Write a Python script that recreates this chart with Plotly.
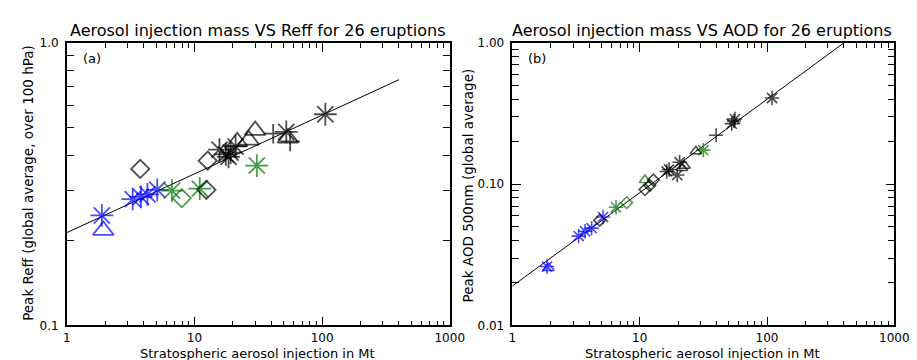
import numpy as np
import plotly.graph_objects as go

# ---------------- data ----------------
reff_mass = [1.88, 1.93, 3.28, 3.81, 4.28, 5.11, 3.76, 6.66, 7.95, 11.0, 30.8,
             12.4, 12.7, 15.7, 17.6, 18.5, 19.2, 21.0, 21.6, 26.6, 29.9, 41.4,
             52.4, 54.0, 56.2, 106.0]
reff_value = [0.245, 0.217, 0.280, 0.285, 0.291, 0.302, 0.358, 0.300, 0.282, 0.305, 0.368,
              0.302, 0.383, 0.419, 0.403, 0.395, 0.409, 0.430, 0.447, 0.453, 0.490, 0.477,
              0.484, 0.460, 0.448, 0.559]
reff_group = ["B", "B", "B", "B", "B", "B", "K", "G", "G", "G", "G",
              "K", "K", "K", "K", "K", "K", "K", "K", "K", "K", "K",
              "K", "K", "K", "K"]
reff_symbol = ["ast", "tri", "ast", "ast", "ast", "ast", "dia", "ast", "dia", "ast", "ast",
               "dia", "dia", "ast", "ast", "ast", "ast", "ast", "tri", "tri", "tri", "plus",
               "ast", "tri", "plus", "ast"]

aod_mass = [1.87, 1.92, 3.31, 3.72, 4.19, 5.15, 4.85, 6.51, 7.9, 11.0, 31.6,
            11.0, 12.0, 12.8, 16.3, 17.0, 19.7, 20.6, 21.5, 22.5, 27.6, 39.8,
            52.8, 55.0, 56.0, 109.6]
aod_value = [0.0261, 0.0255, 0.0429, 0.0464, 0.0488, 0.0585, 0.0556, 0.0686, 0.074, 0.107, 0.174,
             0.0915, 0.098, 0.107, 0.123, 0.127, 0.116, 0.143, 0.130, 0.135, 0.171, 0.222,
             0.268, 0.280, 0.289, 0.407]
aod_group = reff_group
aod_symbol = ["ast", "tri", "ast", "ast", "ast", "ast", "dia", "ast", "dia", "tri", "ast",
              "dia", "dia", "dia", "ast", "ast", "ast", "ast", "tri", "tri", "tri", "plus",
              "ast", "plus", "ast", "ast"]

# power-law fits  y = a * M^b  (drawn from 1 to 400 Mt)
reff_fit = (0.213, 0.208)
aod_fit = (0.019, 0.661)
fit_range = (1.0, 400.0)

x_major = [1, 10, 100, 1000]
x_major_text = ["1", "10", "100", "1000"]
reff_major = [0.1, 1.0]
reff_major_text = ["0.1", "1.0"]
aod_major = [0.01, 0.1, 1.0]
aod_major_text = ["0.01", "0.10", "1.00"]

# ---------------- styles ----------------
colors = {"B": "#0000ff", "G": "#007000", "K": "#000000"}
plotly_sym = {"ast": "asterisk-open", "tri": "triangle-up-open",
              "dia": "diamond-open", "plus": "cross-thin-open"}
size_left = {"ast": 19, "tri": 18, "dia": 14, "plus": 14}
size_right = {"ast": 12, "tri": 10, "dia": 9, "plus": 10}
FONT = "DejaVu Sans"

W, H = 917, 360
left_dom = [56 / W, 447 / W]
right_dom = [511 / W, 901 / W]
y_dom = [1 - 323 / H, 1 - 29 / H]

fig = go.Figure()


def add_panel(mass, vals, groups, syms, fit, sizes, lw, xa, ya):
    xs = np.logspace(np.log10(fit_range[0]), np.log10(fit_range[1]), 50)
    fig.add_trace(go.Scatter(x=xs, y=fit[0] * xs ** fit[1], mode="lines",
                             line=dict(color="black", width=1),
                             xaxis=xa, yaxis=ya, showlegend=False, hoverinfo="skip",
                             cliponaxis=True))
    fig.add_trace(go.Scatter(
        x=mass, y=vals, mode="markers", xaxis=xa, yaxis=ya, showlegend=False,
        cliponaxis=False,
        marker=dict(symbol=[plotly_sym[s] for s in syms],
                    size=[sizes[s] for s in syms],
                    color=[colors[g] for g in groups],
                    line=dict(color=[colors[g] for g in groups], width=lw))))


add_panel(reff_mass, reff_value, reff_group, reff_symbol, reff_fit, size_left, 1.8, "x", "y")
add_panel(aod_mass, aod_value, aod_group, aod_symbol, aod_fit, size_right, 1.6, "x2", "y2")


def minor_vals(lo, hi):
    out = []
    d = lo
    while d < hi:
        out += [k * d for k in range(2, 10)]
        d *= 10
    return out


axis_common = dict(type="log", showgrid=False, zeroline=False, showline=True,
                   linecolor="black", linewidth=1.5, mirror="ticks", ticks="inside",
                   ticklen=9, tickwidth=1, tickcolor="black",
                   tickfont=dict(family=FONT, size=12, color="black"))

xaxis_cfg = dict(axis_common, range=[0, 3], tickmode="array", tickvals=x_major,
                 ticktext=x_major_text, ticklabelstandoff=0,
                 minor=dict(ticks="inside", ticklen=5, tickwidth=1, tickcolor="black",
                            tickmode="array", tickvals=minor_vals(1, 1000), showgrid=False))

fig.update_layout(
    xaxis=dict(xaxis_cfg, domain=left_dom, anchor="y"),
    xaxis2=dict(xaxis_cfg, domain=right_dom, anchor="y2"),
    yaxis=dict(axis_common, domain=y_dom, anchor="x", range=[-1, 0], tickmode="array",
               tickvals=reff_major, ticktext=reff_major_text, ticklabelstandoff=4,
               minor=dict(ticks="inside", ticklen=7, tickwidth=1, tickcolor="black",
                          tickmode="array", tickvals=minor_vals(0.1, 1), showgrid=False)),
    yaxis2=dict(axis_common, domain=y_dom, anchor="x2", range=[-2, 0], tickmode="array",
                tickvals=aod_major, ticktext=aod_major_text, ticklabelstandoff=4,
                minor=dict(ticks="inside", ticklen=7, tickwidth=1, tickcolor="black",
                           tickmode="array", tickvals=minor_vals(0.01, 1), showgrid=False)),
    width=W, height=H, margin=dict(l=0, r=0, t=0, b=0),
    paper_bgcolor="white", plot_bgcolor="white",
    font=dict(family=FONT, color="black"),
)

ann = [
    dict(text="Aerosol injection mass VS Reff for 26 eruptions", x=251 / W, y=1 - 16 / H,
         size=16),
    dict(text="Aerosol injection mass VS AOD for 26 eruptions", x=705 / W, y=1 - 16 / H,
         size=16),
    dict(text="Stratospheric aerosol injection in Mt", x=251 / W, y=1 - 352 / H, size=13),
    dict(text="Stratospheric aerosol injection in Mt", x=705 / W, y=1 - 352 / H, size=13),
    dict(text="(a)", x=82 / W, y=1 - 45 / H, size=13),
    dict(text="(b)", x=536 / W, y=1 - 45 / H, size=13),
]
for a in ann:
    fig.add_annotation(text=a["text"], x=a["x"], y=a["y"], xref="paper", yref="paper",
                       showarrow=False, xanchor="center", yanchor="middle",
                       font=dict(family=FONT, size=a["size"], color="black"))

fig.add_annotation(text="Peak Reff (global average, over 100 hPa)", x=17 / W, y=1 - 175 / H,
                   xref="paper", yref="paper", showarrow=False, textangle=-90,
                   xanchor="center", yanchor="middle",
                   font=dict(family=FONT, size=13.5, color="black"))
fig.add_annotation(text="Peak AOD 500nm (global average)", x=466 / W, y=1 - 177 / H,
                   xref="paper", yref="paper", showarrow=False, textangle=-90,
                   xanchor="center", yanchor="middle",
                   font=dict(family=FONT, size=13.5, color="black"))

fig.write_html("out.html")
